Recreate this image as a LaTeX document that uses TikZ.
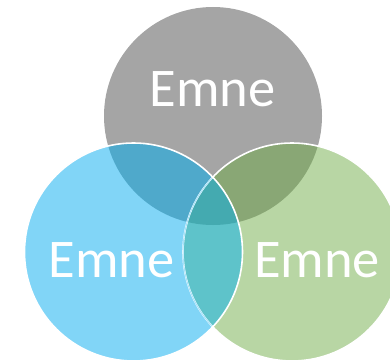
\documentclass[tikz,border=0pt]{standalone}
\usepackage{fontspec}
\setmainfont{Carlito}
\definecolor{cgray}{HTML}{A5A5A5}
\definecolor{cblue}{HTML}{81D5F7}
\definecolor{cgreen}{HTML}{B8D6A4}
\definecolor{cgb}{HTML}{4FA9CB}
\definecolor{cgg}{HTML}{89A775}
\definecolor{cbg}{HTML}{5EC3CA}
\definecolor{call}{HTML}{44AAB0}
\definecolor{cline}{HTML}{A6E2F9}
\begin{document}
\begin{tikzpicture}[x=1pt,y=1pt,
  lbl/.style={anchor=base,text=white,font=\fontsize{54.5}{60}\selectfont,inner sep=0pt},
  border/.style={white,line width=1.6pt}]
\useasboundingbox (0,0) rectangle (390,362);
\def\R{109}
\coordinate (G) at (213,246);
\coordinate (B) at (133.5,110);
\coordinate (N) at (292,110);
\fill[cgray] (G) circle (\R);
\fill[cgreen] (N) circle (\R);
\fill[cblue] (B) circle (\R);
\begin{scope}
  \clip (G) circle (\R);
  \fill[cgb] (B) circle (\R);
  \fill[cgg] (N) circle (\R);
\end{scope}
\begin{scope}
  \clip (B) circle (\R);
  \fill[cbg] (N) circle (\R);
  \clip (G) circle (\R);
  \fill[call] (N) circle (\R);
\end{scope}
\draw[border] (N) circle (\R);
\begin{scope}
  \clip (B) circle (\R);
  \draw[cline,line width=1pt] (N) circle (\R);
\end{scope}
\draw[border] (B) circle (\R);
\node[lbl] (t1) at (212.5,255) {Emne};
\node[lbl] (t2) at (111.5,85) {Emne};
\node[lbl] (t3) at (317,85) {Emne};
\end{tikzpicture}
\end{document}
